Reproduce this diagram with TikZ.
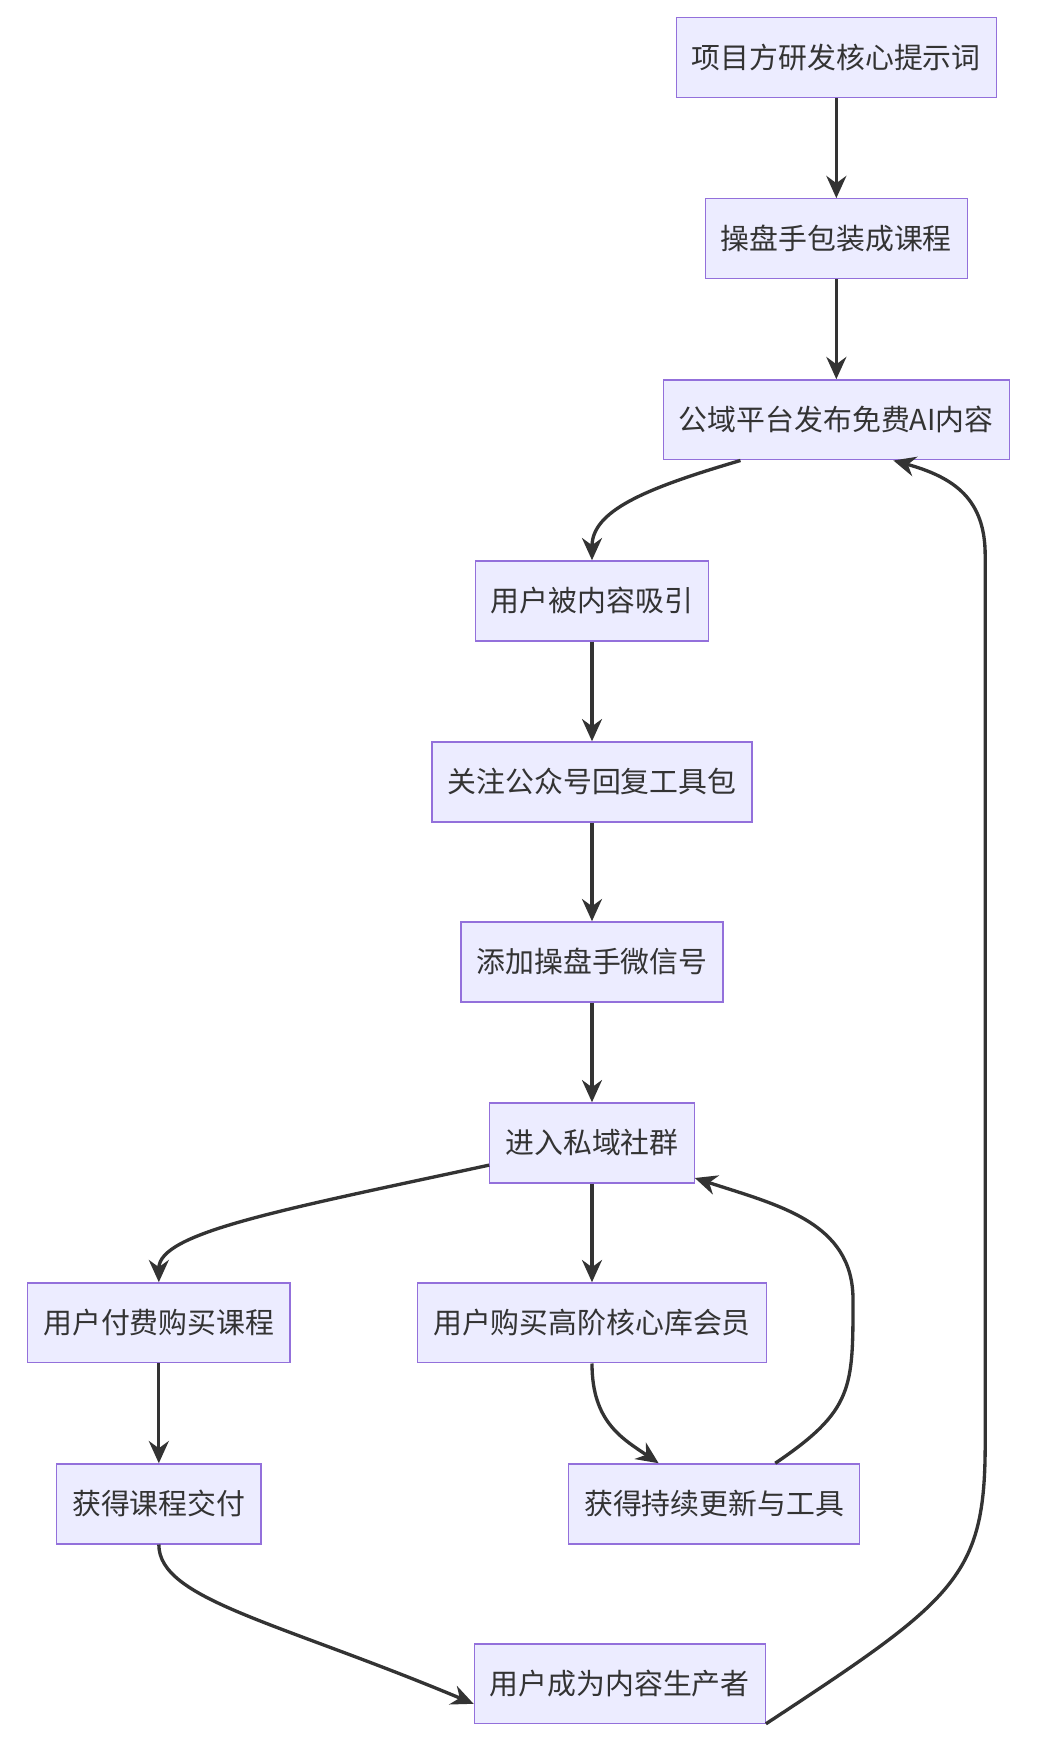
\documentclass[tikz,border=0pt]{standalone}
\usepackage{fontspec}
\setmainfont{Noto Sans CJK SC}
\usetikzlibrary{arrows.meta}
\definecolor{bx}{HTML}{ECECFF}
\definecolor{bd}{HTML}{9370DB}
\definecolor{ln}{HTML}{333333}
\begin{document}
\begin{tikzpicture}[x=1pt,y=-1pt,
  box/.style={draw=bd,fill=bx,line width=1.2pt,minimum height=72pt,inner xsep=14pt,font=\fontsize{26}{30}\selectfont,text=ln},
  ar/.style={draw=ln,line width=3pt,-{Stealth[length=20pt,width=18pt]}}]
\useasboundingbox (0,0) rectangle (940,1572);
\node[box] (a) at (753,52) {项目方研发核心提示词};
\node[box] (b) at (753,215) {操盘手包装成课程};
\node[box] (c) at (753,378) {公域平台发布免费AI内容};
\node[box] (d) at (533,541) {用户被内容吸引};
\node[box] (e) at (533,704) {关注公众号回复工具包};
\node[box] (f) at (533,866) {添加操盘手微信号};
\node[box] (g) at (533,1029) {进入私域社群};
\node[box] (h) at (143,1191) {用户付费购买课程};
\node[box] (i) at (533,1191) {用户购买高阶核心库会员};
\node[box] (j) at (143,1354) {获得课程交付};
\node[box] (k) at (643,1354) {获得持续更新与工具};
\node[box] (l) at (558,1516) {用户成为内容生产者};
\draw[ar] (a) -- (b);
\draw[ar] (b) -- (c);
\draw[ar] (c.south west)++(70,0) .. controls (580,440) and (533,460) .. (d.north);
\draw[ar] (d) -- (e);
\draw[ar] (e) -- (f);
\draw[ar] (f) -- (g);
\draw[ar] (g.west)++(0,20) .. controls (250,1090) and (143,1110) .. (h.north);
\draw[ar] (g) -- (i);
\draw[ar] (h) -- (j);
\draw[ar] (i.south) .. controls (533,1280) and (560,1295) .. ([xshift=-50pt]k.north);
\draw[ar] ([xshift=55pt]k.north) .. controls (768,1270) and (768,1250) .. (768,1170) .. controls (768,1100) and (700,1085) .. ([yshift=5pt]g.south east);
\draw[ar] (j.south) .. controls (143,1440) and (250,1460) .. ([yshift=-18pt]l.west);
\draw[ar] ([yshift=-36pt,xshift=0pt]l.east) .. controls (860,1440) and (887,1420) .. (887,1300) -- (887,500) .. controls (887,450) and (860,430) .. ([xshift=-105pt]c.south east);
\end{tikzpicture}
\end{document}
